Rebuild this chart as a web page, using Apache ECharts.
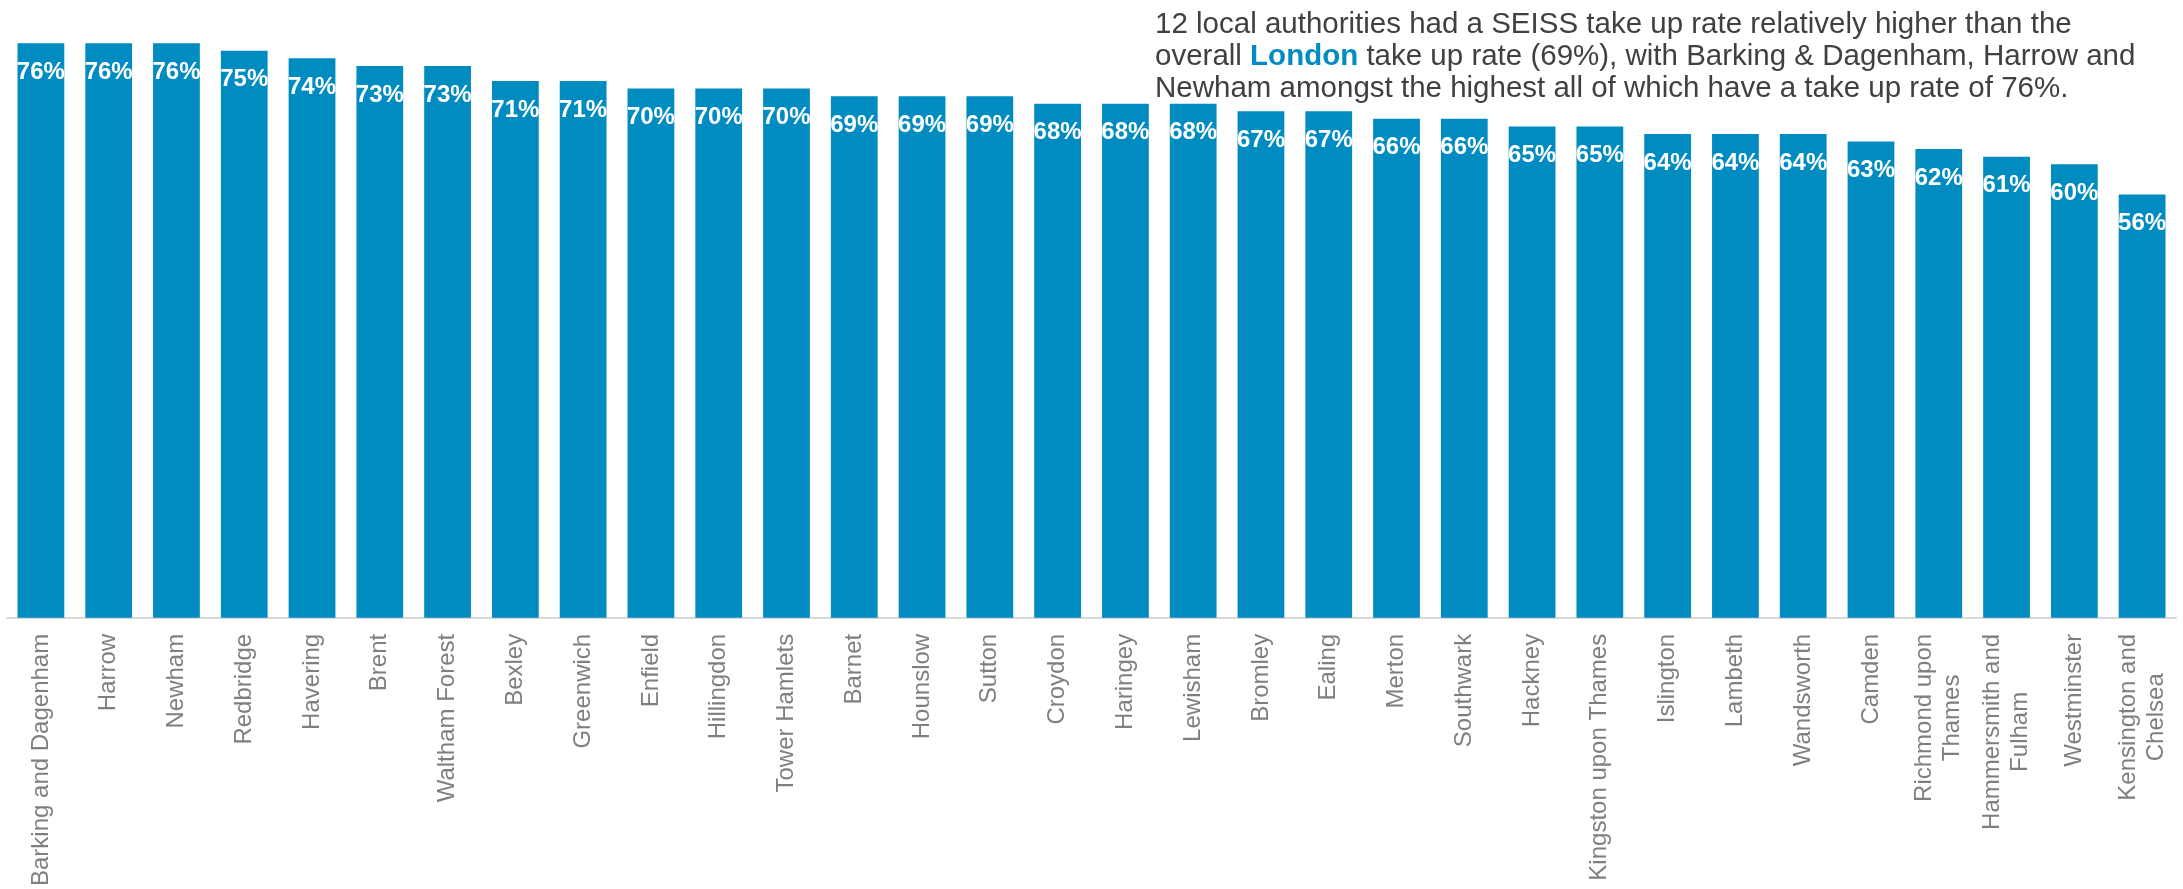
<!DOCTYPE html>
<html>
<head>
<meta charset="utf-8">
<script src="https://cdn.jsdelivr.net/npm/echarts@6/dist/echarts.min.js"></script>
<style>
  html, body { margin: 0; padding: 0; background: #ffffff; }
  #chart { width: 2183px; height: 889px; }
</style>
</head>
<body>
<div id="chart"></div>
<script>
// London boroughs, ordered by SEISS take up rate (highest first)
const boroughs = [
  'Barking and Dagenham', 'Harrow', 'Newham', 'Redbridge', 'Havering', 'Brent',
  'Waltham Forest', 'Bexley', 'Greenwich', 'Enfield', 'Hillingdon', 'Tower Hamlets',
  'Barnet', 'Hounslow', 'Sutton', 'Croydon', 'Haringey', 'Lewisham', 'Bromley',
  'Ealing', 'Merton', 'Southwark', 'Hackney', 'Kingston upon Thames', 'Islington',
  'Lambeth', 'Wandsworth', 'Camden', 'Richmond upon\nThames', 'Hammersmith and\nFulham',
  'Westminster', 'Kensington and\nChelsea'
];

// Take up rate, percent
const takeUpRate = [
  76, 76, 76, 75, 74, 73,
  73, 71, 71, 70, 70, 70,
  69, 69, 69, 68, 68, 68, 67,
  67, 66, 66, 65, 65, 64,
  64, 64, 63, 62, 61,
  60, 56
];

const FONT = '"Liberation Sans", Arial, sans-serif';
const BLUE = '#008bc1';

const chart = echarts.init(document.getElementById('chart'), null, { renderer: 'canvas' });

chart.setOption({
  animation: false,
  backgroundColor: '#ffffff',
  grid: { left: 7, right: 7, top: 13, bottom: 268, containLabel: false },
  xAxis: {
    type: 'category',
    data: boroughs,
    axisLine: { show: true, lineStyle: { color: '#d9d9d9', width: 2 } },
    axisTick: { show: false },
    axisLabel: {
      interval: 0,
      rotate: 90,
      margin: 16,
      color: '#7f7f7f',
      fontFamily: FONT,
      fontSize: 24,
      lineHeight: 28,
      formatter: function (v) {
        return v.split('\n').map(function (s) { return '{c|' + s + '}'; }).join('\n');
      },
      rich: {
        c: { align: 'center', color: '#7f7f7f', fontFamily: FONT, fontSize: 24, lineHeight: 28 }
      }
    }
  },
  yAxis: {
    type: 'value',
    min: 0,
    max: 80,
    show: false,
    splitLine: { show: false }
  },
  series: [{
    type: 'bar',
    data: takeUpRate,
    barCategoryGap: '31%',
    itemStyle: { color: BLUE },
    label: {
      show: true,
      position: 'insideTop',
      distance: 17,
      formatter: '{c}%',
      color: '#ffffff',
      fontFamily: FONT,
      fontWeight: 'bold',
      fontSize: 24
    }
  }],
  graphic: [{
    type: 'text',
    left: 1155,
    top: 9,
    style: {
      text: '12 local authorities had a SEISS take up rate relatively higher than the\n' +
            'overall {b|London} take up rate (69%), with Barking & Dagenham, Harrow and\n' +
            'Newham amongst the highest all of which have a take up rate of 76%.',
      fontFamily: FONT,
      fontSize: 29.5,
      lineHeight: 32,
      fill: '#404040',
      rich: {
        b: { fontFamily: FONT, fontSize: 29.5, lineHeight: 32, fontWeight: 'bold', fill: BLUE, color: BLUE }
      }
    }
  }]
});
</script>
</body>
</html>
